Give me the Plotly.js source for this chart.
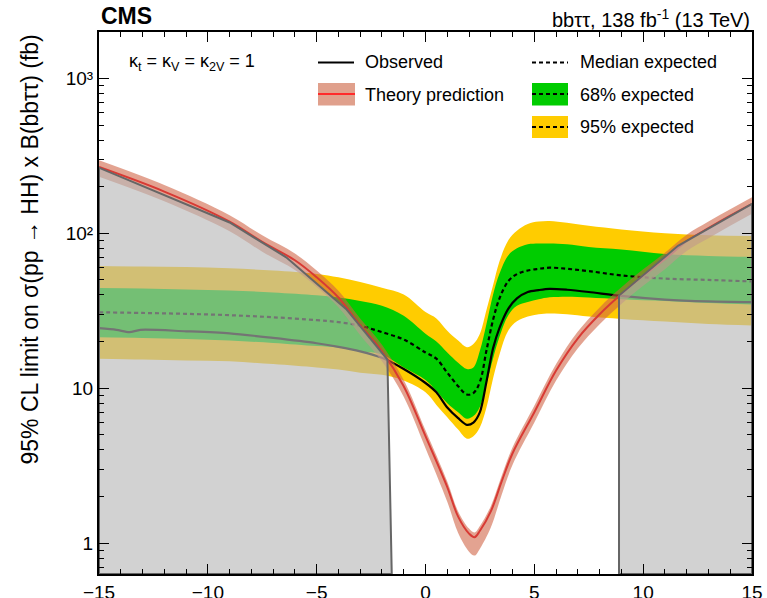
<!DOCTYPE html>
<html>
<head>
<meta charset="utf-8">
<script src="https://cdn.plot.ly/plotly-3.0.1.min.js"></script>
<style>
html,body{margin:0;padding:0;background:#fff;overflow:hidden;}
#wrap{position:relative;width:767px;height:598px;}
#chart,#axesMajor,#axesMinor{position:absolute;left:0;top:0;width:767px;height:598px;}
#axesMajor,#axesMinor{pointer-events:none;}
#probe{position:fixed;left:0;top:0;width:1px;height:1px;overflow:hidden;opacity:0;font-size:1px;}
</style>
</head>
<body>
<div id="wrap"><div id="chart"></div><div id="axesMinor"></div><div id="axesMajor"></div></div>
<div id="probe"></div>
<script>
// ---------------- data ----------------
const expX = [-15,-13,-11,-9,-7,-5,-4,-3,-2,-1,0,0.5,1,1.5,1.9,2.2,2.5,2.8,3.1,3.4,3.8,4.2,4.7,5.2,5.7,6.5,7.5,9,11,13,15];
const expMedian = [30.9,30.6,30.2,29.6,28.7,27.5,26.7,25.3,23.0,20.6,17.0,15.5,12.6,10.3,9.1,9.3,11.0,17.5,27.5,38,49,54.5,57.5,59,60,59,57,53.5,51,50,48.9];
const exp68Hi = [44.3,44.0,43.4,42.7,41.5,39.8,38.5,36.6,34.1,29.4,22.5,20.0,17.0,14.6,13.3,13.6,17.5,26,40,55,72,80,85,86,86,85,81.5,78.5,73.5,71.5,70.5];
const exp68Lo = [21.3,21.1,20.8,20.3,19.6,18.7,18.3,17.3,16.5,13.6,11.3,9.6,8.0,7.0,6.35,6.6,7.6,10.6,15.5,21.5,29.5,34,36,37.5,38.6,39,38.5,37.5,36.5,35.5,34.7];
const exp95Hi = [61.5,61,60.5,59.5,57.5,54.7,52,48.5,44.5,40.2,31,28.2,23.5,20.3,18.4,19.3,22.5,32,46,66,90,104,115,119,120,117,112,106,100,97,96];
const exp95Lo = [15.5,15.3,15.1,14.9,14.3,13.6,13.2,12.6,12.2,11.2,9.4,7.8,6.5,5.4,4.72,4.9,5.6,7.5,11.5,16.5,23.5,27.0,29.0,30,30.4,30,29,28,26.9,26,25.4];

const obsX = [-15,-14.2,-13.6,-13.1,-11,-9,-7,-5,-4,-3,-2,-1,0,0.5,1,1.5,1.9,2.2,2.5,2.8,3.1,3.4,3.8,4.2,4.7,5.2,5.7,6.5,7.5,9,11,13,15];
const observedLimit = [24.4,23.8,23.0,23.8,23.3,22.6,21.1,19.5,18.5,17.3,15.7,13.3,10.8,9.4,7.5,6.4,5.8,6.0,7.0,11,18,24.5,32.5,38,41.8,43,43.8,43.2,41.8,39.4,37.3,36.3,35.9];

const thX = [-15,-12,-9,-7.5,-6,-5,-4,-3,-2,-1,0,1,1.5,2,2.25,2.5,3,3.5,4,5,6,7,8,9,10,11,12,13,14,15];
const theoryXS = [268,186,119,88,67,52,38.5,25.5,17.3,10.3,4.9,2.3,1.48,1.15,1.09,1.2,1.6,2.5,3.8,7.0,13,21,30,40.5,53,68,89,108,130,155];
const theoryXSHi = [296,205,131,97,74,57.5,42.5,28.2,19.1,11.3,5.35,2.5,1.6,1.24,1.17,1.29,1.73,2.72,4.15,7.7,14.3,23.2,33.2,44.8,58.5,75,98,119,143,171];
const theoryXSLo = [232,161,103,76,58,45,33.3,22,14.9,8.8,4.1,1.85,1.16,0.88,0.83,0.92,1.26,2.05,3.2,6.0,11.2,18.1,25.9,35,45.8,58.7,77,93,112,134];

const exclFloor = 0.631;
const exclLeftX = [-15,-15,-9,-6.4,-3.65,-1.75,-1.55,-15];
const exclLeftY = [exclFloor,265,117.5,70,32.5,15.3,exclFloor,exclFloor];
const exclRightX = [8.89,8.89,11.6,15,15,8.89];
const exclRightY = [exclFloor,39.6,83,155,exclFloor,exclFloor];

const xTickVals = [-15,-10,-5,0,5,10,15];
const xTickText = ['\u221215','\u221210','\u22125','0','5','10','15'];
const xMinorVals = [-14,-13,-12,-11,-9,-8,-7,-6,-4,-3,-2,-1,1,2,3,4,6,7,8,9,11,12,13,14];
const yTickVals = [1,10,100,1000];
const yTickText = ['1','10','10\u00b2','10\u00b3'];
const yMinorVals = [0.7,0.8,0.9,2,3,4,5,6,7,8,9,20,30,40,50,60,70,80,90,200,300,400,500,600,700,800,900];

(function () {
  const FONT = 'Liberation Sans, Arial, Helvetica, sans-serif';
  const YELLOW = '#ffcc00', GREEN = '#00cc00';
  const SALMON = 'rgba(206,96,66,0.58)';
  const REDLINE = '#d83a34';
  const OVERLAY = 'rgba(183,183,183,0.63)';
  const X_RANGE = [-15, 15], Y_RANGE = [-0.2, 3.3];

  const left = 99, right = 752, top = 32, bottom = 574;
  const margin = {l: left, r: 767 - right, t: top, b: 598 - bottom, pad: 0};
  const toPX = v => (v - left) / (right - left);
  const toPY = v => (bottom - v) / (bottom - top);

  // ---------- data layer ----------
  const data = [
    {x: expX, y: exp95Lo, mode:'lines', line:{width:0, shape:'spline'}, showlegend:false},
    {x: expX, y: exp95Hi, mode:'lines', line:{width:0, shape:'spline'}, fill:'tonexty', fillcolor:YELLOW, showlegend:false},
    {x: expX, y: exp68Lo, mode:'lines', line:{width:0, shape:'spline'}, showlegend:false},
    {x: expX, y: exp68Hi, mode:'lines', line:{width:0, shape:'spline'}, fill:'tonexty', fillcolor:GREEN, showlegend:false},
    {x: expX, y: expMedian, mode:'lines', line:{width:2.2, color:'#000', dash:'4px,3px', shape:'spline'}, showlegend:false},
    {x: obsX, y: observedLimit, mode:'lines', line:{width:2.2, color:'#000', shape:'spline', smoothing:0.8}, showlegend:false},
    {x: thX, y: theoryXSLo, mode:'lines', line:{width:0, shape:'spline'}, showlegend:false},
    {x: thX, y: theoryXSHi, mode:'lines', line:{width:0, shape:'spline'}, fill:'tonexty', fillcolor:SALMON, showlegend:false},
    {x: thX, y: theoryXS, mode:'lines', line:{width:2, color:REDLINE, shape:'spline'}, showlegend:false},
    {x: exclLeftX, y: exclLeftY, mode:'lines', fill:'toself', fillcolor:OVERLAY, line:{width:2, color:'#666'}, showlegend:false},
    {x: exclRightX, y: exclRightY, mode:'lines', fill:'toself', fillcolor:OVERLAY, line:{width:2, color:'#666'}, showlegend:false}
  ];

  const legendShapes = [
    {type:'line', xref:'paper', yref:'paper', x0:toPX(318), x1:toPX(354), y0:toPY(62.5), y1:toPY(62.5), line:{color:'#000', width:2}},
    {type:'rect', xref:'paper', yref:'paper', x0:toPX(318), x1:toPX(355), y0:toPY(105.5), y1:toPY(83), fillcolor:'#e0a08c', line:{width:0}},
    {type:'line', xref:'paper', yref:'paper', x0:toPX(318), x1:toPX(355), y0:toPY(94), y1:toPY(94), line:{color:'#ff2a2a', width:2}},
    {type:'line', xref:'paper', yref:'paper', x0:toPX(532), x1:toPX(568), y0:toPY(62.5), y1:toPY(62.5), line:{color:'#000', width:2, dash:'4px,3px'}},
    {type:'rect', xref:'paper', yref:'paper', x0:toPX(532), x1:toPX(568), y0:toPY(105.5), y1:toPY(83), fillcolor:GREEN, line:{width:0}},
    {type:'line', xref:'paper', yref:'paper', x0:toPX(532), x1:toPX(568), y0:toPY(94), y1:toPY(94), line:{color:'#000', width:2, dash:'4px,3px'}},
    {type:'rect', xref:'paper', yref:'paper', x0:toPX(532), x1:toPX(568), y0:toPY(138), y1:toPY(116), fillcolor:YELLOW, line:{width:0}},
    {type:'line', xref:'paper', yref:'paper', x0:toPX(532), x1:toPX(568), y0:toPY(127), y1:toPY(127), line:{color:'#000', width:2, dash:'4px,3px'}}
  ];

  const mkAnn = (text, x, y, opts) => Object.assign({text: text, xref:'paper', yref:'paper', x:toPX(x), y:toPY(y), showarrow:false,
    xanchor:'left', yanchor:'middle', font:{family:FONT, size:18, color:'#000'}}, opts || {});

  const anns = [
    mkAnn('<b>CMS</b>', 99, 16, {font:{family:FONT, size:23, color:'#000'}}),
    mkAnn('bb\u03c4\u03c4, 138 fb<sup>-1</sup> (13 TeV)', 752, 19, {xanchor:'right', font:{family:FONT, size:20, color:'#000'}}),
    mkAnn('\u03ba<sub>t</sub> = \u03ba<sub>V</sub> = \u03ba<sub>2V</sub> = 1', 127, 62),
    mkAnn('Observed', 363, 62.5),
    mkAnn('Theory prediction', 363, 95),
    mkAnn('Median expected', 578, 62.5),
    mkAnn('68% expected', 578, 95),
    mkAnn('95% expected', 578, 127),
    mkAnn('95% CL limit on \u03c3(pp \u2192 HH) x B(bb\u03c4\u03c4) (fb)', 29.5, 250, {xanchor:'center', yanchor:'middle', textangle:-90, font:{family:FONT, size:23, color:'#000'}})
  ];

  const hiddenAxis = {showgrid:false, zeroline:false, showline:false, ticks:'', showticklabels:false};

  const p1 = Plotly.newPlot('chart', data, {
    width: 767, height: 598, margin: margin,
    paper_bgcolor: '#fff', plot_bgcolor: '#fff', showlegend: false,
    font: {family: FONT, size: 19, color: '#000'},
    xaxis: Object.assign({range: X_RANGE}, hiddenAxis),
    yaxis: Object.assign({type:'log', range: Y_RANGE}, hiddenAxis),
    shapes: legendShapes, annotations: anns
  }, {staticPlot:true, displayModeBar:false});

  // ---------- minor ticks layer ----------
  const p2 = Plotly.newPlot('axesMinor', [], {
    width: 767, height: 598, margin: margin,
    paper_bgcolor: 'rgba(0,0,0,0)', plot_bgcolor: 'rgba(0,0,0,0)', showlegend: false,
    xaxis: {range: X_RANGE, showgrid:false, zeroline:false, showline:false, mirror:'allticks',
      ticks:'inside', ticklen:5, tickcolor:'#000', tickvals: xMinorVals, showticklabels:false},
    yaxis: {type:'log', range: Y_RANGE, showgrid:false, zeroline:false, showline:false, mirror:'allticks',
      ticks:'inside', ticklen:5, tickcolor:'#000', tickvals: yMinorVals, showticklabels:false}
  }, {staticPlot:true, displayModeBar:false});

  // ---------- frame, major ticks and tick labels ----------
  const p3 = Plotly.newPlot('axesMajor', [], {
    width: 767, height: 598, margin: margin,
    paper_bgcolor: 'rgba(0,0,0,0)', plot_bgcolor: 'rgba(0,0,0,0)', showlegend: false,
    font: {family: FONT, size: 19, color: '#000'},
    xaxis: {range: X_RANGE, showgrid:false, zeroline:false, showline:true, linecolor:'#000', linewidth:2, mirror:'allticks',
      ticks:'inside', ticklen:10, tickcolor:'#000', tickvals: xTickVals, ticktext: xTickText},
    yaxis: {type:'log', range: Y_RANGE, showgrid:false, zeroline:false, showline:true, linecolor:'#000', linewidth:2, mirror:'allticks',
      ticks:'inside', ticklen:10, tickcolor:'#000', tickvals: yTickVals, ticktext: yTickText}
  }, {staticPlot:true, displayModeBar:false});

  // settle layout after drawing (forces a reflow of the axis layers)
  Promise.all([p1, p2, p3]).then(() => {
    const info = [];
    ['axesMajor', 'axesMinor'].forEach(id => {
      const root = document.getElementById(id);
      root.querySelectorAll('path.xlines-above, path.ylines-above, path.xtick, path.ytick').forEach(el => {
        const bb = el.getBoundingClientRect();
        const cs = getComputedStyle(el);
        info.push(bb.width + bb.height + cs.strokeWidth.length);
      });
    });
    document.elementFromPoint(425, 32);
    document.getElementById('probe').textContent = String(info.length);
  }).catch(() => {});
})();
</script>
</body>
</html>
